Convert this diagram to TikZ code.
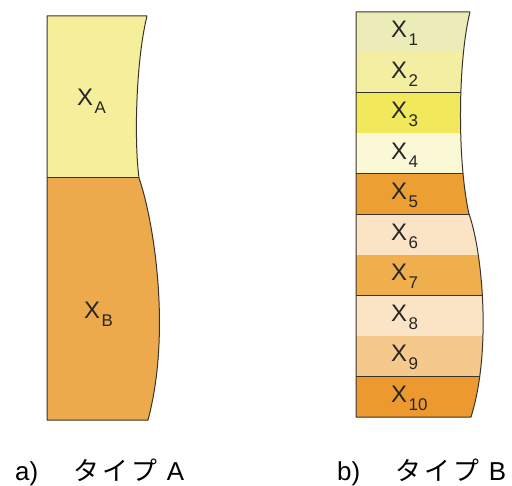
\documentclass[tikz,border=0pt]{standalone}
\usepackage{fontspec}
\setmainfont{Liberation Sans}
\newfontfamily\jpfont{Noto Sans CJK JP}
\definecolor{cA}{HTML}{F5EE9A}
\definecolor{cB}{HTML}{ECAA4C}
\definecolor{c1}{HTML}{ECECB8}
\definecolor{c2}{HTML}{F3EEA2}
\definecolor{c3}{HTML}{F2E85C}
\definecolor{c4}{HTML}{FBF8D6}
\definecolor{c5}{HTML}{EC9F33}
\definecolor{c6}{HTML}{FBE4C6}
\definecolor{c7}{HTML}{EEAF4C}
\definecolor{c8}{HTML}{FBE4C6}
\definecolor{c9}{HTML}{F5C88C}
\definecolor{c10}{HTML}{EC9A30}
\definecolor{edgec}{HTML}{3A332C}
\newcommand\lsub[1]{\hspace{1.5bp}\raisebox{-8bp}{\fontsize{17}{17}\selectfont #1}}
\begin{document}
\begin{tikzpicture}[x=1bp,y=-1bp,
  edge/.style={draw=edgec,line width=1bp,line join=round},
  lab/.style={inner sep=0pt,anchor=base west,font=\fontsize{24}{26}\selectfont,text=black!85},
  captext/.style={inner sep=0pt,anchor=base west,font=\fontsize{26}{28}\selectfont}]
\useasboundingbox (0,0) rectangle (512,486);
% ---- column A ----
\begin{scope}
\clip (47,16) -- (147,16) .. controls (136,60) and (134,140) .. (139,178)
  .. controls (153,218) and (172,330) .. (148,420) -- (47,420) -- cycle;
\fill[cA] (40,10) rectangle (180,178);
\fill[cB] (40,178) rectangle (180,425);
\draw[edge] (40,178) -- (180,178);
\end{scope}
\draw[edge] (47,16) -- (147,16) .. controls (136,60) and (134,140) .. (139,178)
  .. controls (153,218) and (172,330) .. (148,420) -- (47,420) -- cycle;
\node[lab] (xa) at (77,106) {X\lsub{A}};
\node[lab] (xb) at (84,318) {X\lsub{B}};
% ---- column B ----
\begin{scope}
\clip (356,12) -- (470,12) .. controls (458,60) and (457,160) .. (469,214)
  .. controls (482,250) and (492,350) .. (471,417) -- (356,417) -- cycle;
\foreach \i in {1,...,10}{
  \pgfmathsetmacro\ya{12+(\i-1)*40.5}
  \pgfmathsetmacro\yb{12+\i*40.5}
  \fill[c\i] (350,\ya) rectangle (505,\yb);
  \draw[edge] (350,\yb) -- (505,\yb);
}
\end{scope}
\draw[edge] (356,12) -- (470,12) .. controls (458,60) and (457,160) .. (469,214)
  .. controls (482,250) and (492,350) .. (471,417) -- (356,417) -- cycle;
\foreach \i in {1,...,10}{
  \pgfmathsetmacro\yc{12+(\i-0.5)*40.5+5.5}
  \node[lab] (x\i) at (391,\yc) {X\lsub{\i}};
}
% ---- captions ----
\node[captext] (capa) at (15,480) {a)\hspace{35bp}{\jpfont タ\hspace{3bp}イ\hspace{3bp}プ}\hspace{10bp}A};
\node[captext] (capb) at (337,480) {b)\hspace{35bp}{\jpfont タ\hspace{3bp}イ\hspace{3bp}プ}\hspace{10bp}B};
\end{tikzpicture}
\end{document}
